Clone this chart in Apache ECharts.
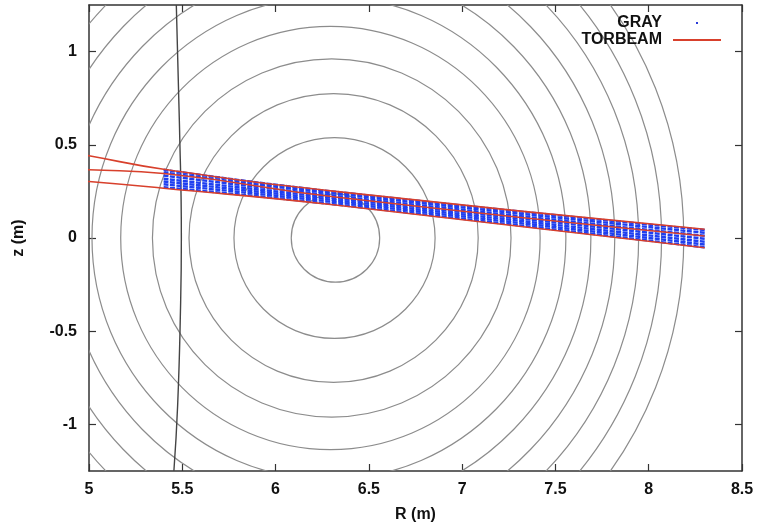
<!DOCTYPE html>
<html>
<head>
<meta charset="utf-8">
<script src="https://cdn.jsdelivr.net/npm/echarts@6/dist/echarts.min.js"></script>
<style>
  html, body { margin: 0; padding: 0; background: #fff; }
  #chart { width: 757px; height: 528px; }
</style>
</head>
<body>
<div id="chart"></div>
<script>
// Axis ticks
const xTicks = [5, 5.5, 6, 6.5, 7, 7.5, 8, 8.5];
const yTicks = [-1, -0.5, 0, 0.5, 1];

// Flux surfaces: centre R (m), horizontal half-width (m), elongation
const surfR0 = [6.321, 6.316, 6.311, 6.301, 6.294, 6.286, 6.281, 6.275, 6.270, 6.265, 6.259];
const surfA = [0.237, 0.539, 0.775, 0.961, 1.124, 1.270, 1.409, 1.543, 1.676, 1.804, 1.929];
const surfKappa = [1.0, 1.0, 1.0, 1.0, 1.01, 1.02, 1.03, 1.04, 1.05, 1.06, 1.07];

// Wall contour (R, z)
const wallR = [5.468, 5.485, 5.495, 5.49, 5.475, 5.455];
const wallZ = [1.25, 0.6, 0.0, -0.4, -0.9, -1.25];

// TORBEAM: central ray and beam-width envelope
const tbR = [4.9, 5.0, 5.4, 6.32, 8.3];
const tbUpper = [0.459, 0.441, 0.369, 0.250, 0.047];
const tbCentre = [0.371, 0.366, 0.346, 0.220, 0.011];
const tbLower = [0.308, 0.303, 0.267, 0.177, -0.052];

// GRAY ray bundle
const grayR = [5.4, 6.32, 8.3];
const grayRays = [
  [0.366, 0.248, 0.043],
  [0.352, 0.238, 0.028],
  [0.335, 0.226, 0.012],
  [0.318, 0.214, -0.004],
  [0.303, 0.203, -0.020],
  [0.288, 0.192, -0.035],
  [0.272, 0.180, -0.050]
];

const pairs = (xs, ys) => xs.map((x, i) => [x, ys[i]]);

const series = [];

series.push({
  type: 'custom',
  name: 'surfaces',
  clip: true,
  silent: true,
  data: surfR0.map((r0, i) => [r0, surfA[i], surfKappa[i]]),
  encode: { x: 0, y: 1 },
  renderItem: function (params, api) {
    const c = api.coord([api.value(0), 0]);
    const s = api.size([api.value(1), api.value(1) * api.value(2)]);
    return {
      type: 'ellipse',
      shape: { cx: c[0], cy: c[1], rx: s[0], ry: s[1] },
      style: { fill: null, stroke: '#8c8c8c', lineWidth: 1.2 }
    };
  },
  z: 1
});

series.push({
  type: 'line',
  name: 'wall',
  data: pairs(wallR, wallZ),
  smooth: true,
  showSymbol: false,
  lineStyle: { color: '#444', width: 1.4 },
  silent: true,
  z: 2
});

grayRays.forEach(function (ray) {
  series.push({
    type: 'line',
    name: 'GRAY',
    data: pairs(grayR, ray),
    smooth: true,
    showSymbol: false,
    color: '#2a3bd8',
    lineStyle: { color: '#1f3ff0', width: 2.4, type: [5, 1.5] },
    silent: true,
    z: 3
  });
});

[tbUpper, tbCentre, tbLower].forEach(function (ray) {
  series.push({
    type: 'line',
    name: 'TORBEAM',
    data: pairs(tbR, ray),
    smooth: true,
    showSymbol: false,
    color: '#d8402c',
    lineStyle: { color: '#d8402c', width: 1.6 },
    silent: true,
    z: 4
  });
});

const labelFont = { fontFamily: 'Liberation Sans', fontSize: 16, fontWeight: 'bold', color: '#111' };
const axisLine = { show: true, onZero: false, lineStyle: { color: '#333', width: 1.5 } };
const tickStyle = { inside: true, length: 7, lineStyle: { color: '#333', width: 1.2 } };

const chart = echarts.init(document.getElementById('chart'));
chart.setOption({
  animation: false,
  backgroundColor: '#fff',
  grid: { left: 89, right: 15, top: 5, bottom: 56 },
  legend: {
    right: 31,
    top: 10,
    orient: 'vertical',
    align: 'right',
    itemWidth: 48,
    itemHeight: 2,
    itemGap: 1,
    data: [
      { name: 'GRAY', icon: 'path://M0 0H1V1H0Z' },
      { name: 'TORBEAM', icon: 'rect' }
    ],
    textStyle: { fontFamily: 'Liberation Sans', fontSize: 16, fontWeight: 'bold', color: '#111', padding: [0, 6, 0, 0] }
  },
  xAxis: [{
    type: 'value', min: 5, max: 8.5, interval: 0.5,
    name: 'R (m)', nameLocation: 'middle', nameGap: 36,
    nameTextStyle: labelFont,
    axisLine: axisLine,
    axisTick: Object.assign({ customValues: xTicks }, tickStyle),
    axisLabel: Object.assign({ margin: 11, customValues: xTicks }, labelFont),
    splitLine: { show: false }
  }, {
    type: 'value', min: 5, max: 8.5, interval: 0.5, position: 'top',
    axisLine: axisLine,
    axisTick: Object.assign({ customValues: xTicks }, tickStyle),
    axisLabel: { show: false },
    splitLine: { show: false }
  }],
  yAxis: [{
    type: 'value', min: -1.25, max: 1.25,
    name: 'z (m)', nameLocation: 'middle', nameGap: 62, nameRotate: 90,
    nameTextStyle: labelFont,
    axisLine: axisLine,
    axisTick: Object.assign({ customValues: yTicks }, tickStyle),
    axisLabel: Object.assign({ margin: 12, customValues: yTicks }, labelFont),
    splitLine: { show: false }
  }, {
    type: 'value', min: -1.25, max: 1.25, position: 'right',
    axisLine: axisLine,
    axisTick: Object.assign({ customValues: yTicks }, tickStyle),
    axisLabel: { show: false },
    splitLine: { show: false }
  }],
  series: series
});
</script>
</body>
</html>
